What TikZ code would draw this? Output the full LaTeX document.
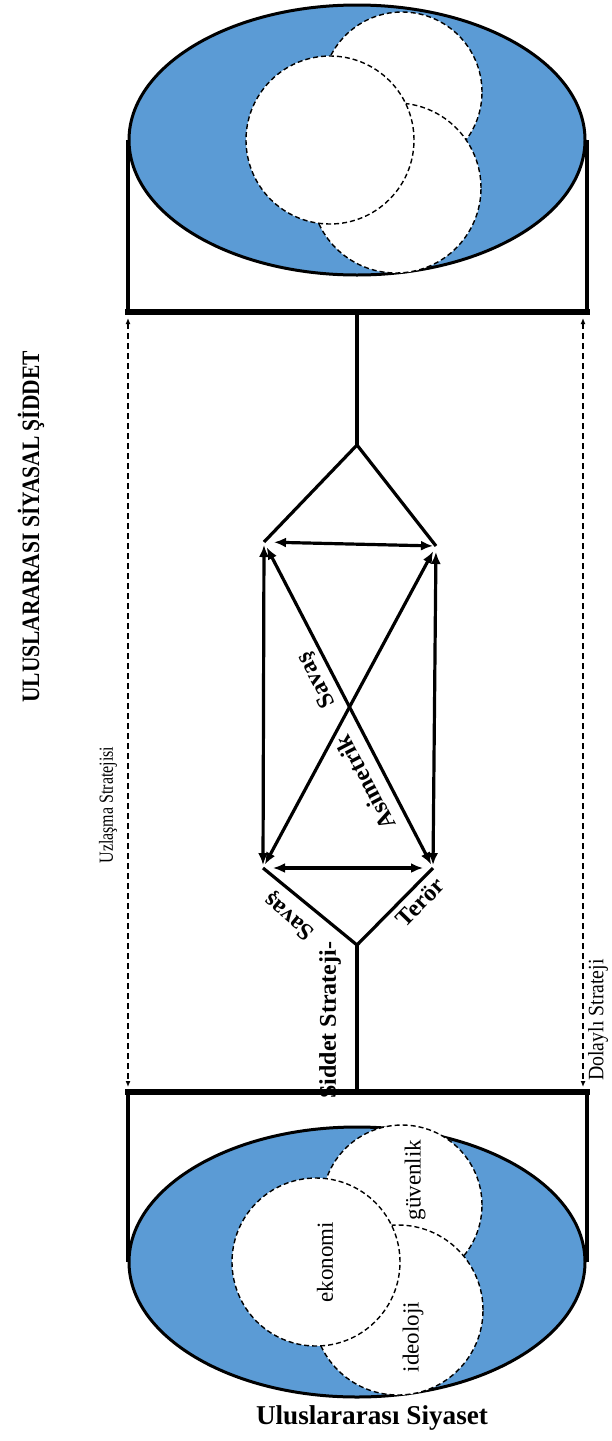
\documentclass[tikz,border=0pt]{standalone}
\usepackage{fontspec}
\setmainfont{Liberation Serif}
\usetikzlibrary{arrows.meta,shapes.geometric}
\definecolor{field_blue}{RGB}{91,155,213}

\begin{document}
\begin{tikzpicture}[x=0.5pt, y=0.5pt,
    field_style/.style={ellipse, draw=black, line width=1.5pt, fill=field_blue, minimum width=228pt, minimum height=135pt, inner sep=0pt},
    set_style/.style={circle, draw=black, fill=white, line width=0.7pt, dash pattern=on 2.5pt off 1.5pt, inner sep=0pt},
    side_style/.style={draw=black, line width=2pt},
    bar_style/.style={draw=black, line width=3pt, line cap=rect},
    edge_style/.style={draw=black, line width=1.6pt},
    arrow_style/.style={draw=black, line width=1.6pt, {Latex[length=6pt,width=5pt]}-{Latex[length=6pt,width=5pt]}},
    link_style/.style={draw=black, line width=0.7pt, dash pattern=on 3pt off 2pt, {Latex[length=3pt,width=2.5pt]}-{Latex[length=3pt,width=2.5pt]}},
    tag_style/.style={font=\fontsize{12}{14}\selectfont\bfseries, inner sep=0pt},
    set_label/.style={font=\fontsize{11.5}{13}\selectfont, rotate=90, inner sep=0pt}]

    \useasboundingbox (0,0) rectangle (611,-1441);

    \node[field_style] (sky) at (357,-140) {};
    \node[set_style, minimum size=80pt] (guv_top) at (402,-92) {};
    \node[set_style, minimum size=85pt] (ide_top) at (396,-188) {};
    \node[set_style, minimum size=84pt] (eko_top) at (330,-140) {};
    \coordinate (tbar) at (357,-312);
    \draw[side_style] (sky.west) -- (sky.west |- tbar);
    \draw[side_style] (sky.east) -- (sky.east |- tbar);
    \draw[bar_style] (sky.west |- tbar) -- (sky.east |- tbar);

    \coordinate (dtop) at (357,-445);
    \coordinate (nw) at (264,-542);
    \coordinate (ne) at (436,-546);
    \coordinate (sw) at (263,-868);
    \coordinate (se) at (433,-868);
    \coordinate (dbot) at (357,-945);
    \coordinate (bbar) at (357,-1092);
    \draw[side_style] (tbar) -- (dtop);
    \draw[edge_style] (nw) -- (dtop) -- (ne);
    \draw[edge_style] (sw) -- (dbot) -- (se);
    \draw[arrow_style, shorten <=5pt, shorten >=1.5pt] (nw) -- (ne);
    \draw[arrow_style, shorten <=5pt, shorten >=5pt] (sw) -- (se);
    \draw[arrow_style, shorten <=1.5pt, shorten >=1.5pt] (nw) -- (sw);
    \draw[arrow_style, shorten <=3pt, shorten >=1.5pt] (ne) -- (se);
    \draw[arrow_style, shorten <=3pt, shorten >=2pt] (nw) -- (se);
    \draw[arrow_style, shorten <=2pt, shorten >=3pt] (sw) -- (ne);
    \draw[side_style] (dbot) -- (bbar);

    \node[tag_style, rotate=117.6] (savas_x) at (317,-680) {Savaş};
    \node[tag_style, rotate=117.6] (asim) at (365,-783) {Asimetrik};
    \node[tag_style, rotate=140] (savas) at (290,-916) {Savaş};
    \node[tag_style, rotate=46] (teror) at (420,-902) {Terör};
    \node[tag_style, rotate=90, anchor=west] (siddet) at (330,-1099) {Şiddet Strateji-};

    \node[field_style] (earth) at (357,-1262) {};
    \node[set_style, minimum size=80pt] (guv_bot) at (402,-1205) {};
    \node[set_style, minimum size=85pt] (ide_bot) at (398,-1310) {};
    \node[set_style, minimum size=84pt] (eko_bot) at (316,-1262) {};
    \draw[side_style] (earth.west) -- (earth.west |- bbar);
    \draw[side_style] (earth.east) -- (earth.east |- bbar);
    \draw[bar_style] (earth.west |- bbar) -- (earth.east |- bbar);
    \node[set_label] (eko) at (325,-1262) {ekonomi};
    \node[set_label] (guv) at (415,-1180) {güvenlik};
    \node[set_label] (ide) at (413,-1337) {ideoloji};
    \node[font=\fontsize{13.6}{16}\selectfont\bfseries, inner sep=0pt] (world) at (372,-1418) {Uluslararası Siyaset};

    \coordinate (uz_a) at (128,-318);
    \coordinate (uz_b) at (128,-1087);
    \coordinate (do_a) at (583,-318);
    \coordinate (do_b) at (583,-1087);
    \draw[link_style] (uz_a) -- (uz_b);
    \draw[link_style] (do_a) -- (do_b);
    \node[rotate=90, xscale=0.8, font=\fontsize{10}{12}\selectfont, inner sep=0pt] (uzl) at (108,-805) {Uzlaşma Stratejisi};
    \node[rotate=90, xscale=0.9, font=\fontsize{11}{13}\selectfont, inner sep=0pt] (dol) at (598,-1020) {Dolaylı Strateji};
    \node[tag_style, rotate=90, xscale=0.86, font=\fontsize{12.5}{15}\selectfont\bfseries] (title) at (31,-527) {ULUSLARARASI SİYASAL ŞİDDET};
\end{tikzpicture}
\end{document}
